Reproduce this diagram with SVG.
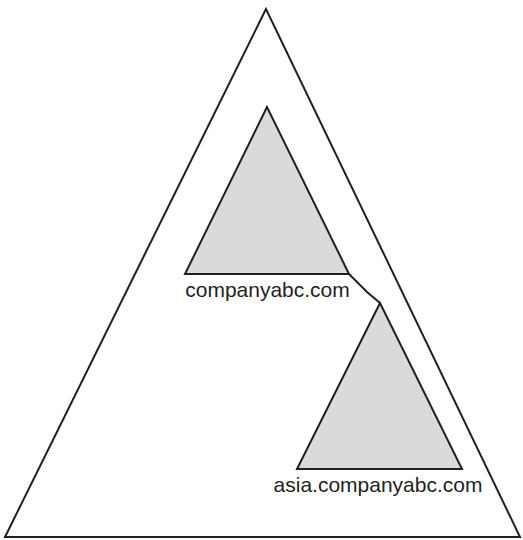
<svg xmlns="http://www.w3.org/2000/svg" width="523" height="540" viewBox="0 0 523 540">
<style>
.tri{stroke:#231f20;stroke-width:2;stroke-linejoin:miter}
.outer{fill:#fff}
.inner{fill:#d9dadc}
.lbl{font-family:"Liberation Sans",Arial,sans-serif;font-size:21px;fill:#231f20;text-anchor:middle}
</style>
<rect width="523" height="540" fill="#fff"/>
<g id="forest">
<polygon class="tri outer" points="266,9 5,537 520,537"/>
</g>
<g id="connectors">
<polyline points="349,274 367,292 380,303" fill="none" stroke="#231f20" stroke-width="2"/>
</g>
<g id="companyabc">
<polygon class="tri inner" points="267,107 185,274 349,274"/>
<text class="lbl" x="267.5" y="297">companyabc.com</text>
</g>
<g id="asia">
<polygon class="tri inner" points="380,303 297,469 462,469"/>
<text class="lbl" x="378" y="492">asia.companyabc.com</text>
</g>
</svg>
